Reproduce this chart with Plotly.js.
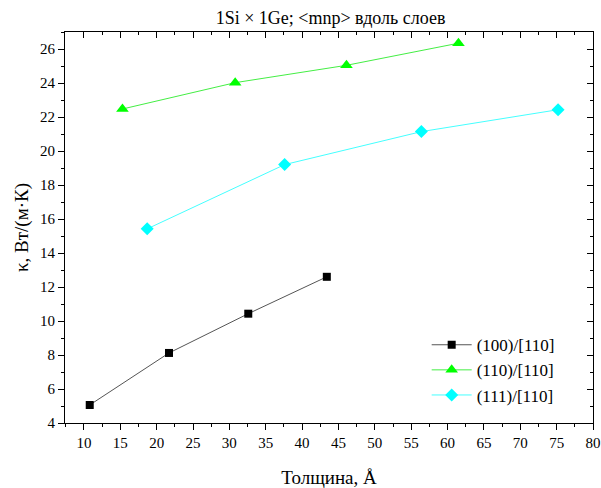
<!DOCTYPE html>
<html>
<head>
<meta charset="utf-8">
<script src="https://cdn.plot.ly/plotly-3.0.1.min.js"></script>
<style>html,body{margin:0;padding:0;background:#fff;}#chart{width:601px;height:488px;}</style>
</head>
<body>
<div id="chart"></div>
<script>
const seriesNames = ["(100)/[110]", "(110)/[110]", "(111)/[110]"];
const x100 = [10.8, 21.7, 32.6, 43.4];
const k100 = [5.06, 8.12, 10.43, 12.6];
const x110 = [15.3, 30.8, 46.1, 61.5];
const k110 = [22.47, 24.02, 25.04, 26.34];
const x111 = [18.7, 37.6, 56.4, 75.2];
const k111 = [15.42, 19.2, 21.14, 22.43];
const xTickVals = [10,15,20,25,30,35,40,45,50,55,60,65,70,75,80];
const yTickVals = [4,6,8,10,12,14,16,18,20,22,24,26];

const serif = "Liberation Serif";
const traces = [
  {x: x100, y: k100, name: seriesNames[0], mode: "lines+markers", type: "scatter",
   line: {color: "#555555", width: 1}, marker: {symbol: "square", size: 8, color: "#000000"}},
  {x: x110, y: k110, name: seriesNames[1], mode: "lines+markers", type: "scatter",
   line: {color: "#44ee44", width: 1}, marker: {symbol: "triangle-up", size: 11, color: "#00ff00"}},
  {x: x111, y: k111, name: seriesNames[2], mode: "lines+markers", type: "scatter",
   line: {color: "#44ffff", width: 1}, marker: {symbol: "diamond", size: 10, color: "#00ffff"}}
];
const xr = [7.4, 80];
const yr = [4, 27];
const layout = {
  width: 601, height: 488,
  margin: {l: 65, r: 8, t: 32, b: 65},
  paper_bgcolor: "#fff", plot_bgcolor: "#fff",
  font: {family: serif, color: "#000", size: 15},
  title: {text: "1Si × 1Ge; &lt;mnp&gt; вдоль слоев", font: {family: serif, size: 18, color: "#000"},
          x: 0.55, xanchor: "center", y: 0.963, yanchor: "middle"},
  showlegend: true,
  legend: {x: 0.685, y: 0.245, xanchor: "left", yanchor: "top", bgcolor: "rgba(0,0,0,0)",
           font: {family: serif, size: 17, color: "#000"}, tracegroupgap: 0, itemwidth: 40},
  xaxis: {range: xr, tickvals: xTickVals, ticks: "outside", ticklen: 6, tickwidth: 1, tickcolor: "#000",
          showline: true, linecolor: "#000", linewidth: 1, showgrid: false, zeroline: false,
          tickfont: {family: serif, size: 15, color: "#000"},
          minor: {dtick: 2.5, tick0: 0, ticks: "outside", ticklen: 3, tickcolor: "#000", showgrid: false},
          title: {text: "Толщина, Å", font: {family: serif, size: 19, color: "#000"}, standoff: 22}},
  yaxis: {range: yr, tickvals: yTickVals, ticks: "outside", ticklen: 6, tickwidth: 1, tickcolor: "#000",
          showline: true, linecolor: "#000", linewidth: 1, showgrid: false, zeroline: false,
          tickfont: {family: serif, size: 15, color: "#000"},
          minor: {dtick: 1, tick0: 0, ticks: "outside", ticklen: 3, tickcolor: "#000", showgrid: false},
          title: {text: "κ, Вт/(м·К)", font: {family: serif, size: 19, color: "#000"}, standoff: 6}},
  xaxis2: {overlaying: "x", side: "top", range: xr, tickvals: xTickVals, ticks: "inside", ticklen: 6,
           tickcolor: "#000", showticklabels: false, showline: true, linecolor: "#000", linewidth: 1,
           showgrid: false, zeroline: false,
           minor: {dtick: 2.5, tick0: 0, ticks: "inside", ticklen: 3, tickcolor: "#000", showgrid: false}},
  yaxis2: {overlaying: "y", side: "right", range: yr, tickvals: yTickVals, ticks: "inside", ticklen: 6,
           tickcolor: "#000", showticklabels: false, showline: true, linecolor: "#000", linewidth: 1,
           showgrid: false, zeroline: false,
           minor: {dtick: 1, tick0: 0, ticks: "inside", ticklen: 3, tickcolor: "#000", showgrid: false}}
};
const dummy = {x: [xr[0]], y: [yr[0]], xaxis: "x2", yaxis: "y2", mode: "markers",
               marker: {opacity: 0}, showlegend: false, hoverinfo: "skip"};
Plotly.newPlot("chart", traces.concat([dummy]), layout, {staticPlot: true, displayModeBar: false});
</script>
</body>
</html>
